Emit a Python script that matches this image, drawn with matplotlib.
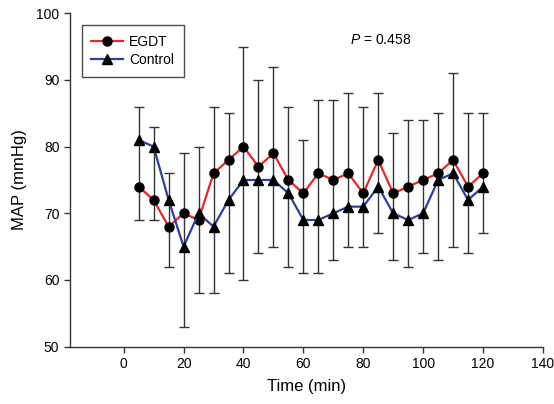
import numpy as np
import matplotlib.pyplot as plt

plt.rcParams['font.family'] = ['Liberation Sans', 'DejaVu Sans']
plt.rcParams['mathtext.fontset'] = 'custom'
plt.rcParams['mathtext.it'] = 'Liberation Sans:italic'
plt.rcParams['mathtext.rm'] = 'Liberation Sans'

# ---- data ----
time_min = [5, 10, 15, 20, 25, 30, 35, 40, 45, 50, 55, 60,
            65, 70, 75, 80, 85, 90, 95, 100, 105, 110, 115, 120]
egdt = [74, 72, 68, 70, 69, 76, 78, 80, 77, 79, 75, 73,
        76, 75, 76, 73, 78, 73, 74, 75, 76, 78, 74, 76]
control = [81, 80, 72, 65, 70, 68, 72, 75, 75, 75, 73, 69,
           69, 70, 71, 71, 74, 70, 69, 70, 75, 76, 72, 74]
# error bar ends (one bar per time point)
err_top = [86, 83, 76, 79, 80, 86, 85, 95, 90, 92, 86, 81,
           87, 87, 88, 86, 88, 82, 84, 84, 85, 91, 85, 85]
err_bottom = [69, 69, 62, 53, 58, 58, 61, 60, 64, 65, 62, 61,
              61, 63, 65, 65, 67, 63, 62, 64, 63, 65, 64, 67]

x = np.array(time_min)
e = np.array(egdt)
yerr = [e - np.array(err_bottom), np.array(err_top) - e]

fig = plt.figure(figsize=(5.54, 4.04), dpi=100)
ax = fig.add_axes([0.126, 0.142, 0.854, 0.825])

ax.errorbar(x, e, yerr=yerr, fmt='none', ecolor='#333333',
            elinewidth=1.0, capsize=3.5, capthick=1.0, zorder=1)
ax.plot(x, egdt, color='#e8262a', lw=1.6, marker='o', ms=6.5,
        mfc='black', mec='black', label='EGDT', zorder=3)
ax.plot(x, control, color='#2b3f9e', lw=1.6, marker='^', ms=6.5,
        mfc='black', mec='black', label='Control', zorder=4)

ax.set_xlim(-18, 140)
ax.set_ylim(50, 100)
ax.set_xticks(range(0, 141, 20))
ax.set_yticks(range(50, 101, 10))
ax.spines['top'].set_visible(False)
ax.spines['right'].set_visible(False)
for s in ['left', 'bottom']:
    ax.spines[s].set_color('#333333')
    ax.spines[s].set_linewidth(1.0)
ax.tick_params(direction='out', length=4, width=1, colors='#333333',
               labelcolor='black', labelsize=10)

ax.set_xlabel('Time (min)', fontsize=12, labelpad=6)
ax.set_ylabel('MAP (mmHg)', fontsize=12, labelpad=7)

ax.text(75.5, 96, r'$P$ = 0.458', fontsize=10, va='center')

leg = ax.legend(loc='upper left', bbox_to_anchor=(0.025, 0.965),
                borderaxespad=0, fontsize=10, frameon=True, fancybox=False,
                edgecolor='#222222', handlelength=2.3, handletextpad=0.4,
                borderpad=0.7, labelspacing=0.3)
leg.get_frame().set_linewidth(1.0)

fig.savefig('out.png', dpi=100)
